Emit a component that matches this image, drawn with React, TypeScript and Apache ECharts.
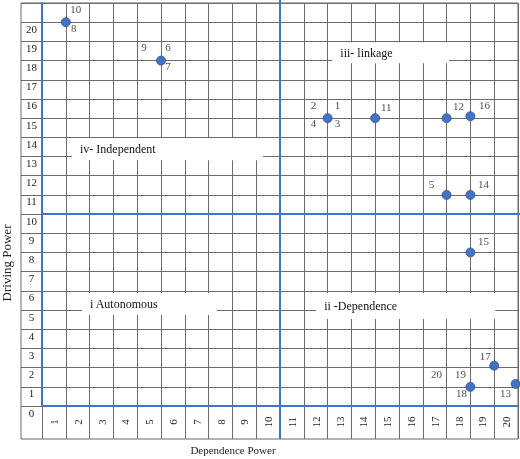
import React, { useEffect, useRef } from 'react';
import * as echarts from 'echarts';

// ---- data ----
const dependenceTicks = ['1', '2', '3', '4', '5', '6', '7', '8', '9', '10', '11', '12', '13', '14', '15', '16', '17', '18', '19', '20'];
const drivingTicks = ['0', '1', '2', '3', '4', '5', '6', '7', '8', '9', '10', '11', '12', '13', '14', '15', '16', '17', '18', '19', '20'];

const dependencePower = [1, 5, 12, 14, 17, 18, 17, 18, 18, 19, 18, 19.9];
const drivingPower = [20, 18, 15, 15, 15, 15.1, 11, 11, 8, 2.1, 1, 1.15];
const variablesAtPoint = [
  ['10', '8'],
  ['9', '6', '7'],
  ['2', '1', '4', '3'],
  ['11'],
  ['12'],
  ['16'],
  ['5'],
  ['14'],
  ['15'],
  ['17'],
  ['20', '19', '18'],
  ['13'],
];

const quadrantNames = ['iv- Independent', 'iii- linkage', 'i Autonomous', 'ii -Dependence'];

// ---- layout / style ----
const quadrantBoxes: [number, number][][] = [
  [[1.26, 13.97], [9.29, 12.81]],
  [[12.2, 18.96], [17.1, 17.86]],
  [[1.68, 5.88], [7.35, 4.74]],
  [[11.52, 5.88], [19.04, 4.53]],
];

const labelOffsets: Record<string, [number, number]> = {
  '10': [10, -13], '8': [8, 6],
  '9': [-17, -14], '6': [7, -14], '7': [7, 5],
  '2': [-14, -13], '1': [10, -13], '4': [-14, 5], '3': [10, 5],
  '11': [11, -11], '12': [12, -12], '16': [14, -11],
  '5': [-15, -11], '14': [13, -11], '15': [13, -11],
  '17': [-9, -10], '20': [-34, -13], '19': [-10, -13], '18': [-9, 6],
  '13': [-10, 9],
};

const SERIF = "'Liberation Serif', 'Times New Roman', serif";
const GRID = '#6b6b6b';
const BLUE = '#4472C4';
const TEXT = '#222';

export default function App() {
  const ref = useRef<HTMLDivElement>(null);

  useEffect(() => {
    document.body.style.margin = '0';
    const chart = echarts.init(ref.current!, undefined, { renderer: 'svg' });

    const points = dependencePower.map((x, i) => [x, drivingPower[i]]);
    const labelData: any[] = [];
    variablesAtPoint.forEach((ids, i) => {
      ids.forEach((id) => {
        labelData.push({
          name: id,
          value: [dependencePower[i], drivingPower[i]],
          label: { offset: labelOffsets[id] || [8, -10] },
        });
      });
    });

    const option: any = {
      animation: false,
      grid: [
        { left: 42, top: 3, width: 476, height: 403, show: false },
        { left: 21, top: 3, width: 497, height: 436, show: true, borderColor: GRID, borderWidth: 1, backgroundColor: 'transparent' },
      ],
      xAxis: [
        {
          gridIndex: 0,
          type: 'value',
          min: 0,
          max: 20,
          interval: 1,
          position: 'bottom',
          axisLine: { show: true, onZero: false, lineStyle: { color: BLUE, width: 2 } },
          axisTick: { show: true, inside: false, length: 33, lineStyle: { color: GRID, width: 1 } },
          axisLabel: { show: false },
          splitLine: { show: true, showMinLine: false, lineStyle: { color: GRID, width: 1 } },
        },
        {
          gridIndex: 0,
          type: 'category',
          data: dependenceTicks,
          position: 'bottom',
          boundaryGap: true,
          axisLine: { show: false },
          axisTick: { show: false },
          splitLine: { show: false },
          axisLabel: {
            interval: 0,
            rotate: 90,
            align: 'center',
            verticalAlign: 'middle',
            margin: 16,
            fontSize: 11,
            fontFamily: SERIF,
            color: TEXT,
          },
        },
        { gridIndex: 1, type: 'value', show: false },
      ],
      yAxis: [
        {
          gridIndex: 0,
          type: 'value',
          min: 0,
          max: 21,
          interval: 1,
          axisLine: { show: true, onZero: false, lineStyle: { color: BLUE, width: 2 } },
          axisTick: { show: true, inside: false, length: 21, lineStyle: { color: GRID, width: 1 } },
          axisLabel: {
            show: true,
            formatter: (v: number) => drivingTicks[v] ?? '',
            align: 'center',
            verticalAlign: 'top',
            padding: [1, 0, 0, 0],
            margin: 10.5,
            fontSize: 11,
            fontFamily: SERIF,
            color: TEXT,
          },
          splitLine: { show: true, showMinLine: false, lineStyle: { color: GRID, width: 1 } },
        },
        { gridIndex: 1, type: 'value', show: false },
      ],
      series: [
        {
          type: 'scatter',
          name: 'points',
          xAxisIndex: 0,
          yAxisIndex: 0,
          data: points,
          symbol: 'circle',
          symbolSize: 9,
          z: 5,
          itemStyle: { color: BLUE, borderColor: '#2F528F', borderWidth: 0.8, opacity: 1 },
          silent: true,
          markArea: {
            silent: true,
            itemStyle: { color: '#ffffff', opacity: 1, borderWidth: 0 },
            label: {
              show: true,
              position: 'insideLeft',
              distance: 8,
              color: '#111',
              fontSize: 12,
              fontFamily: SERIF,
            },
            data: quadrantNames.map((n, i) => [
              { name: n, coord: quadrantBoxes[i][0] },
              { coord: quadrantBoxes[i][1] },
            ]),
          },
        },
        {
          type: 'scatter',
          name: 'labels',
          xAxisIndex: 0,
          yAxisIndex: 0,
          data: labelData,
          symbol: 'circle',
          symbolSize: 1,
          z: 6,
          silent: true,
          itemStyle: { color: 'rgba(0,0,0,0)' },
          label: {
            show: true,
            position: 'inside',
            formatter: '{b}',
            fontSize: 11,
            fontFamily: SERIF,
            color: TEXT,
          },
        },
      ],
    };

    chart.setOption(option);

    const o = chart.convertToPixel({ gridIndex: 0 }, [0, 0]) as number[];
    const c = chart.convertToPixel({ gridIndex: 0 }, [10, 10]) as number[];

    chart.setOption({
      graphic: [
        {
          type: 'line',
          z: 50,
          shape: { x1: c[0], y1: 0, x2: c[0], y2: o[1] + 33 },
          style: { stroke: BLUE, lineWidth: 2 },
          silent: true,
        },
        {
          type: 'line',
          z: 50,
          shape: { x1: o[0], y1: c[1], x2: 520, y2: c[1] },
          style: { stroke: BLUE, lineWidth: 2 },
          silent: true,
        },
        {
          type: 'text',
          x: 233,
          y: 450,
          style: { text: 'Dependence Power', fill: TEXT, font: `11px ${SERIF}`, align: 'center', verticalAlign: 'middle' },
          silent: true,
        },
        {
          type: 'text',
          x: 6,
          y: 263,
          rotation: Math.PI / 2,
          style: { text: 'Driving Power', fill: TEXT, font: `13px ${SERIF}`, align: 'center', verticalAlign: 'middle' },
          silent: true,
        },
      ],
    });

    return () => chart.dispose();
  }, []);

  return <div ref={ref} style={{ position: 'fixed', left: 0, top: 0, width: 520, height: 459 }} />;
}
